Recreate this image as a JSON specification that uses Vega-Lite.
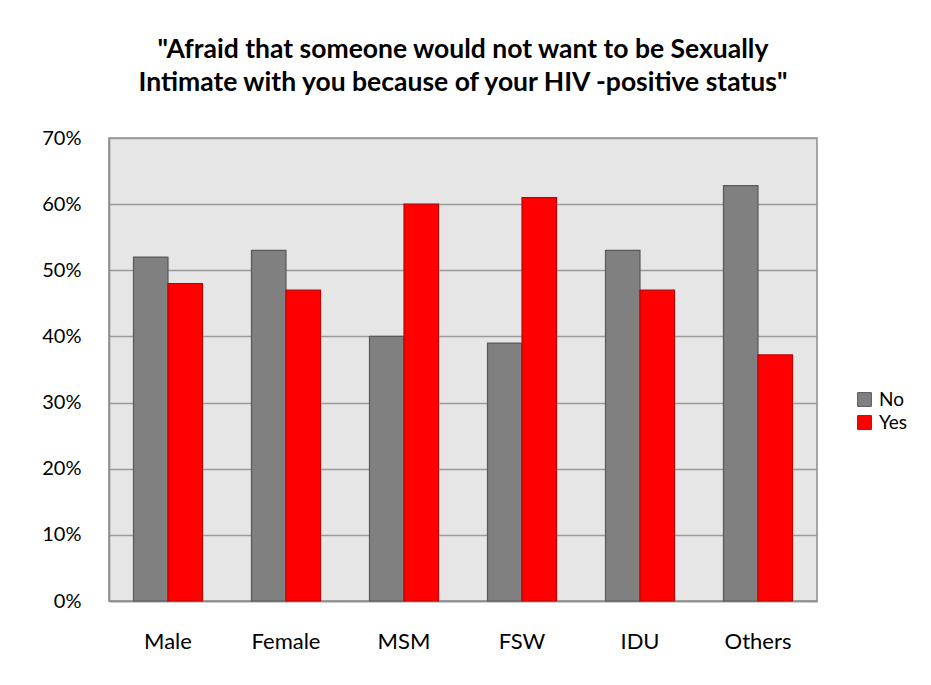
{
  "$schema": "https://vega.github.io/schema/vega-lite/v6.json",
  "autosize": "none",
  "width": 708,
  "height": 463,
  "padding": {"left": 109, "top": 138, "right": 114, "bottom": 84},
  "background": "white",
  "title": {
    "text": ["\"Afraid that someone would not want to be Sexually", "Intimate with you because of your HIV -positive status\""],
    "font": "Lato",
    "fontSize": 26.5,
    "fontWeight": "bold",
    "color": "#000000",
    "anchor": "middle",
    "lineHeight": 33,
    "offset": 32
  },
  "data": {
    "values": [
      {"group": "Male", "response": "No", "value": 0.52},
      {"group": "Male", "response": "Yes", "value": 0.48},
      {"group": "Female", "response": "No", "value": 0.53},
      {"group": "Female", "response": "Yes", "value": 0.47},
      {"group": "MSM", "response": "No", "value": 0.40},
      {"group": "MSM", "response": "Yes", "value": 0.60},
      {"group": "FSW", "response": "No", "value": 0.39},
      {"group": "FSW", "response": "Yes", "value": 0.61},
      {"group": "IDU", "response": "No", "value": 0.53},
      {"group": "IDU", "response": "Yes", "value": 0.47},
      {"group": "Others", "response": "No", "value": 0.628},
      {"group": "Others", "response": "Yes", "value": 0.372}
    ]
  },
  "mark": {"type": "bar", "strokeWidth": 1.2},
  "encoding": {
    "x": {
      "field": "group",
      "type": "nominal",
      "sort": ["Male", "Female", "MSM", "FSW", "IDU", "Others"],
      "scale": {"paddingInner": 0.415, "paddingOuter": 0.2075},
      "axis": {
        "title": null,
        "labelAngle": 0,
        "labelFont": "Lato",
        "labelFontSize": 22,
        "labelColor": "#000000",
        "labelPadding": 30,
        "ticks": false,
        "domainColor": "#8c8c8c",
        "domainWidth": 1.5,
        "grid": false
      }
    },
    "xOffset": {"field": "response", "type": "nominal", "sort": ["No", "Yes"]},
    "y": {
      "field": "value",
      "type": "quantitative",
      "scale": {"domain": [0, 0.7], "nice": false},
      "axis": {
        "title": null,
        "format": ".0%",
        "values": [0, 0.1, 0.2, 0.3, 0.4, 0.5, 0.6, 0.7],
        "labelFont": "Lato",
        "labelFontSize": 20,
        "labelColor": "#000000",
        "labelPadding": 28,
        "ticks": false,
        "domainColor": "#8c8c8c",
        "domainWidth": 1.5,
        "grid": true,
        "gridColor": "#9a9a9a",
        "gridWidth": 1.5
      }
    },
    "color": {
      "field": "response",
      "type": "nominal",
      "scale": {"domain": ["No", "Yes"], "range": ["#808080", "#ff0000"]},
      "legend": {
        "title": null,
        "orient": "none",
        "legendX": 746,
        "legendY": 252,
        "symbolType": "square",
        "symbolSize": 190,
        "symbolStrokeWidth": 1,
        "labelFont": "Lato",
        "labelFontSize": 19,
        "labelColor": "#000000",
        "labelOffset": 5,
        "rowPadding": 3
      }
    },
    "stroke": {
      "field": "response",
      "type": "nominal",
      "scale": {"domain": ["No", "Yes"], "range": ["#595959", "#c00000"]},
      "legend": null
    }
  },
  "config": {
    "view": {"fill": "#e6e6e6", "stroke": "#8c8c8c", "strokeWidth": 1.5}
  }
}
